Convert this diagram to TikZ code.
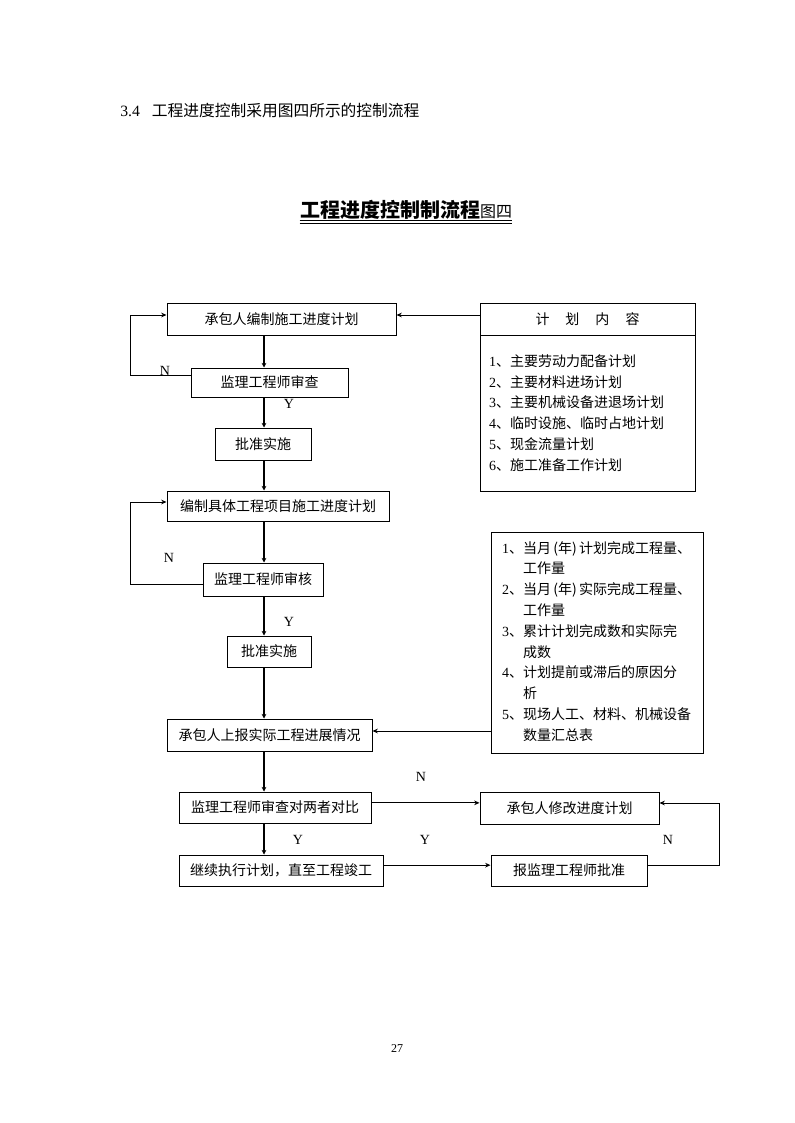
\documentclass[tikz,border=0pt]{standalone}
\usepackage{fontspec}
\setmainfont{Liberation Serif}
\newfontfamily\cjk{Noto Sans CJK SC}
\usetikzlibrary{arrows.meta, positioning}
\newcommand\itemno[1]{{\rmfamily #1}}

\begin{document}
\begin{tikzpicture}[x=0.75pt, y=-0.75pt,
  box/.style={draw, line width=0.75pt, inner sep=0pt, font=\cjk\fontsize{10.5pt}{12pt}\selectfont},
  listbox/.style={box, font=\cjk\fontsize{10.5pt}{15.6pt}\selectfont},
  spine/.style={line width=1.5pt, arrows={-Stealth[length=3.5pt, width=3.5pt]}},
  link/.style={line width=0.75pt, arrows={-Stealth[length=4pt, width=3.5pt]}},
  yn/.style={font=\fontsize{10.5pt}{12pt}\selectfont}]
  \useasboundingbox (0,0) rectangle (794,1123);
  \node[anchor=west, inner sep=0pt, font=\fontsize{11.8pt}{14pt}\selectfont] (head) at (120,111) {3.4\hspace{9pt}\cjk 工程进度控制采用图四所示的控制流程};
  \node[inner sep=0pt, anchor=base, font=\cjk\fontsize{15pt}{18pt}\selectfont] (title) at (406,218) {\bfseries 工程进度控制制流程{\mdseries\fontsize{12pt}{14pt}\selectfont 图四}};
  \draw[line width=0.6pt] ([yshift=-2pt]title.base west) -- ([yshift=-2pt]title.base east);
  \draw[line width=0.6pt] ([yshift=-4pt]title.base west) -- ([yshift=-4pt]title.base east);
  \coordinate (axis) at (264,0);
  \coordinate (loopx) at (130,0);
  \node[box, minimum width=171.75pt, minimum height=24pt] (A) at (281.5,319) {承包人编制施工进度计划};
  \node[box, minimum width=117.75pt, minimum height=21.75pt] (B) at (269.5,382.5) {监理工程师审查};
  \node[box, minimum width=72pt, minimum height=24pt] (C) at (263,444) {批准实施};
  \node[box, minimum width=166.5pt, minimum height=22.5pt] (D) at (278,506) {编制具体工程项目施工进度计划};
  \node[box, minimum width=90pt, minimum height=24.75pt] (E) at (263,579.5) {监理工程师审核};
  \node[box, minimum width=63pt, minimum height=23.25pt] (F) at (269,651.5) {批准实施};
  \node[box, minimum width=153.75pt, minimum height=24pt] (G) at (269.5,735) {承包人上报实际工程进展情况};
  \node[box, minimum width=144pt, minimum height=23.25pt] (H) at (275,807.5) {监理工程师审查对两者对比};
  \node[box, minimum width=153pt, minimum height=23.25pt] (I) at (281,870.5) {继续执行计划，直至工程竣工};
  \node[box, minimum width=134.25pt, minimum height=24pt] (J) at (569.5,808) {承包人修改进度计划};
  \node[box, minimum width=117pt, minimum height=23.25pt] (K) at (569,870.5) {报监理工程师批准};
  \node[box, minimum width=161.25pt, minimum height=24pt] (planhead) at (587.5,319) {计\hspace{12pt}划\hspace{12pt}内\hspace{12pt}容};
  \node[listbox, minimum height=117pt, text width=147.75pt, inner xsep=6.75pt, align=left] (planbody) at (587.5,413) {\itemno{1}、主要劳动力配备计划\\ \itemno{2}、主要材料进场计划\\ \itemno{3}、主要机械设备进退场计划\\ \itemno{4}、临时设施、临时占地计划\\ \itemno{5}、现金流量计划\\ \itemno{6}、施工准备工作计划};
  \node[listbox, minimum height=165.75pt, text width=142.5pt, inner xsep=8.25pt, align=left] (report) at (597,642.5) {\begin{tabular}{@{}l@{}l@{}}
    \itemno{1}、&当月\,(年)\,计划完成工程量、\\ &工作量\\
    \itemno{2}、&当月\,(年)\,实际完成工程量、\\ &工作量\\
    \itemno{3}、&累计计划完成数和实际完\\ &成数\\
    \itemno{4}、&计划提前或滞后的原因分\\ &析\\
    \itemno{5}、&现场人工、材料、机械设备\\ &数量汇总表
  \end{tabular}};
  \draw[spine] (A.south -| axis) -- (B.north -| axis);
  \draw[spine] (B.south -| axis) -- (C.north -| axis);
  \draw[spine] (C.south -| axis) -- (D.north -| axis);
  \draw[spine] (D.south -| axis) -- (E.north -| axis);
  \draw[spine] (E.south -| axis) -- (F.north -| axis);
  \draw[spine] (F.south -| axis) -- (G.north -| axis);
  \draw[spine] (G.south -| axis) -- (H.north -| axis);
  \draw[spine] (H.south -| axis) -- (I.north -| axis);
  \draw[link] ([yshift=4.9pt]B.west) -- ([yshift=4.9pt]B.west -| loopx) |- ([yshift=3pt]A.west);
  \draw[link] ([yshift=3pt]planhead.west) -- ([yshift=3pt]A.east);
  \draw[link] ([yshift=-3.4pt]E.west) -- ([yshift=-3.4pt]E.west -| loopx) |- ([yshift=3pt]D.west);
  \draw[link] ([yshift=3pt]G.east -| report.west) -- ([yshift=3pt]G.east);
  \draw[link] ([yshift=3.5pt]H.east) -- ([yshift=3.5pt]H.east -| J.west);
  \draw[link] ([yshift=4pt]I.east) -- ([yshift=4pt]I.east -| K.west);
  \draw[link] ([yshift=4pt]K.east) -- ++(72,0) |- ([yshift=3.75pt]J.east);
  \node[yn] (n1) at (165,371) {N};
  \node[yn] (y1) at (289,404) {Y};
  \node[yn] (n2) at (169,558) {N};
  \node[yn] (y2) at (289,622) {Y};
  \node[yn] (n3) at (421,777) {N};
  \node[yn] (y3) at (298,840) {Y};
  \node[yn] (y4) at (425,840) {Y};
  \node[yn] (n4) at (668,840) {N};
  \node[font=\fontsize{9pt}{11pt}\selectfont] (page) at (397,1049) {27};
\end{tikzpicture}
\end{document}
